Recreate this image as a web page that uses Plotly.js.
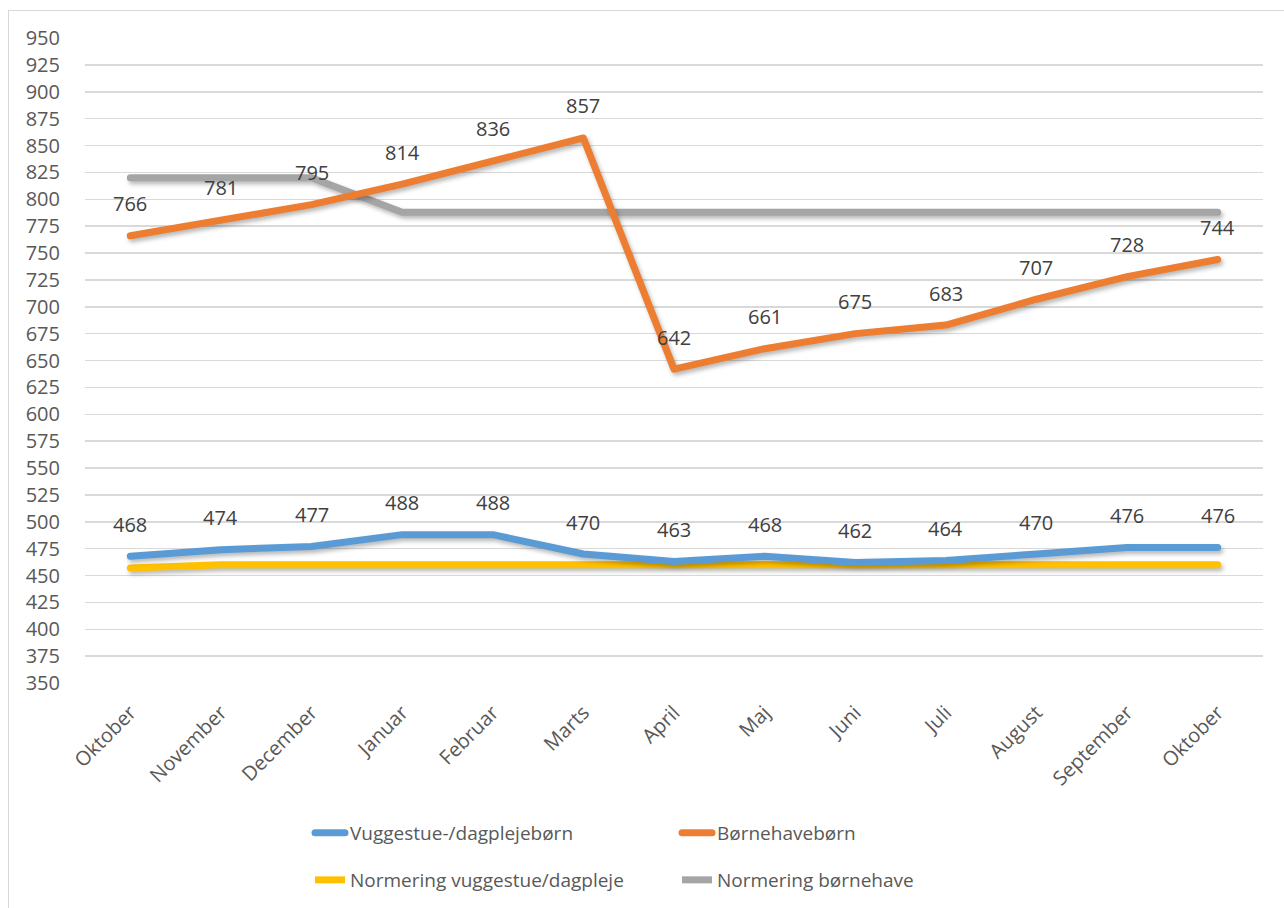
<!DOCTYPE html>
<html>
<head>
<meta charset="utf-8">
<script src="https://cdn.plot.ly/plotly-3.0.1.min.js"></script>
<style>
  html, body { margin: 0; padding: 0; background: #ffffff; overflow: hidden; }
  #frame { position: absolute; left: 8px; top: 10px; width: 1300px; height: 920px;
           border: 1px solid #D9D9D9; box-sizing: border-box; z-index: 0; }
  #chart { position: absolute; left: 0; top: 0; width: 1284px; height: 908px; z-index: 1; }
  #chart .scatterlayer path.js-line {
    stroke-linecap: round !important; stroke-linejoin: round !important;
    filter: drop-shadow(2px 3px 2px rgba(0,0,0,0.28));
  }
  #chart .legend path.js-line { stroke-linecap: round !important; }
</style>
</head>
<body>
<div id="frame"></div>
<div id="chart"></div>
<script>
const months = ["Oktober","November","December","Januar","Februar","Marts","April","Maj","Juni","Juli","August","September","Oktober"];
const vuggestue = [468,474,477,488,488,470,463,468,462,464,470,476,476];
const boernehave = [766,781,795,814,836,857,642,661,675,683,707,728,744];
const normVuggestue = [457,460,460,460,460,460,460,460,460,460,460,460,460];
const normBoernehave = [820,820,820,788,788,788,788,788,788,788,788,788,788];
const yTicks = [350,375,400,425,450,475,500,525,550,575,600,625,650,675,700,725,750,775,800,825,850,875,900,925,950];

const xIdx = months.map((m, i) => i);
const fontFam = "'Open Sans', 'Noto Sans', sans-serif";

const traces = [
  { name: "Normering vuggestue/dagpleje", x: xIdx, y: normVuggestue, mode: "lines",
    line: { color: "#FFC000", width: 7 }, legend: "legend2", legendrank: 1, hoverinfo: "skip" },
  { name: "Normering børnehave", x: xIdx, y: normBoernehave, mode: "lines",
    line: { color: "#A5A5A5", width: 7 }, legend: "legend2", legendrank: 2, hoverinfo: "skip" },
  { name: "Vuggestue-/dagplejebørn", x: xIdx, y: vuggestue, mode: "lines",
    line: { color: "#5B9BD5", width: 7 }, legend: "legend", legendrank: 1, hoverinfo: "skip" },
  { name: "Børnehavebørn", x: xIdx, y: boernehave, mode: "lines",
    line: { color: "#ED7D31", width: 7 }, legend: "legend", legendrank: 2, hoverinfo: "skip" }
];

const annotations = [];
[vuggestue, boernehave].forEach(series => {
  series.forEach((v, i) => {
    annotations.push({ x: i, y: v, xref: "x", yref: "y", text: String(v), showarrow: false,
      yshift: 32, font: { family: fontFam, size: 20, color: "#404040" } });
  });
});

const legendFont = { family: fontFam, size: 19, color: "#595959" };

const layout = {
  width: 1284, height: 908,
  margin: { l: 85, r: 21, t: 38, b: 225 },
  paper_bgcolor: "rgba(0,0,0,0)",
  plot_bgcolor: "rgba(0,0,0,0)",
  showlegend: true,
  xaxis: {
    range: [-0.5, 12.5], tickvals: xIdx, ticktext: months, tickangle: -45,
    showgrid: false, zeroline: false, showline: false,
    ticks: "outside", ticklen: 9, tickcolor: "rgba(0,0,0,0)",
    tickfont: { family: fontFam, size: 20, color: "#595959" }, fixedrange: true
  },
  yaxis: {
    range: [350, 950], tickvals: yTicks, showgrid: true, gridcolor: "#D9D9D9", gridwidth: 1.5,
    zeroline: false, showline: false,
    ticks: "outside", ticklen: 20, tickcolor: "rgba(0,0,0,0)",
    tickfont: { family: fontFam, size: 20, color: "#595959" }, fixedrange: true
  },
  legend: {
    orientation: "h", xref: "container", yref: "container",
    x: 310/1284, y: 75/908, xanchor: "left", yanchor: "middle",
    entrywidth: 322, font: legendFont, bgcolor: "rgba(0,0,0,0)"
  },
  legend2: {
    orientation: "h", xref: "container", yref: "container",
    x: 310/1284, y: 28/908, xanchor: "left", yanchor: "middle",
    entrywidth: 322, font: legendFont, bgcolor: "rgba(0,0,0,0)"
  },
  annotations: annotations
};

Plotly.newPlot("chart", traces, layout, { displayModeBar: false, staticPlot: true });
</script>
</body>
</html>
